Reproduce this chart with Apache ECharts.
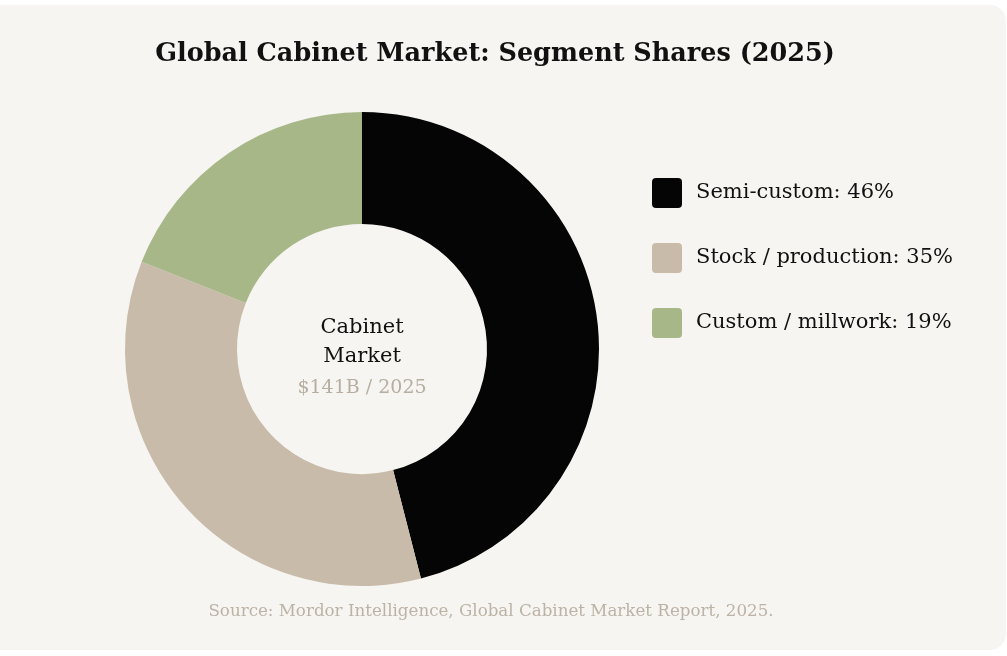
<!DOCTYPE html>
<html>
<head>
<meta charset="utf-8">
<script src="https://cdn.jsdelivr.net/npm/echarts@6/dist/echarts.min.js"></script>
<style>
  html, body { margin: 0; padding: 0; background: #ffffff; }
  #card {
    position: absolute; left: 0; top: 5px; width: 1006px; height: 645px;
    background: #f6f5f1; border-radius: 0 16px 16px 0; overflow: hidden;
  }
  #main { position: absolute; left: 0; top: 0; width: 1006px; height: 645px; }
</style>
</head>
<body>
<div id="card"><div id="main"></div></div>
<script>
// segment data
var segments = ['Semi-custom', 'Stock / production', 'Custom / millwork'];
var shares = [46, 35, 19];
var centerLines = ['Cabinet', 'Market'];
var centerNote = '$141B / 2025';
var sourceText = 'Source: Mordor Intelligence, Global Cabinet Market Report, 2025.';

var palette = ['#050505', '#c9bbaa', '#a8b788'];
var serif = 'Georgia, "DejaVu Serif", serif';
var swatch = 'path://M4,0 H26 Q30,0 30,4 V26 Q30,30 26,30 H4 Q0,30 0,26 V4 Q0,0 4,0 Z';

function buildData() {
    var out = [];
    for (var i = 0; i < segments.length; i++) {
        out.push({ name: segments[i], value: shares[i], itemStyle: { color: palette[i] } });
    }
    return out;
}

var myChart = echarts.init(document.getElementById('main'));
var option = {
    animation: false,
    title: {
        text: 'Global Cabinet Market: Segment Shares (2025)',
        left: 490, top: 31, textAlign: 'center',
        textStyle: { fontFamily: serif, fontWeight: 'bold', fontSize: 25.5, color: '#111' }
    },
    legend: {
        orient: 'vertical',
        left: 652, top: 173,
        padding: 0,
        icon: swatch,
        itemWidth: 30, itemHeight: 30, itemGap: 35,
        textStyle: { fontFamily: serif, fontSize: 21, color: '#111', padding: [0, 0, 0, 9] },
        formatter: function (name) {
            return name + ': ' + shares[segments.indexOf(name)] + '%';
        },
        selectedMode: false
    },
    graphic: [
        {
            type: 'text', x: 362, y: 308,
            style: {
                text: centerLines.join('\n'), align: 'center', verticalAlign: 'top',
                font: '21px ' + serif, lineHeight: 29, fill: '#111'
            }
        },
        {
            type: 'text', x: 362, y: 374,
            style: {
                text: centerNote, align: 'center', verticalAlign: 'top',
                font: '19px ' + serif, fill: '#b7aea2'
            }
        },
        {
            type: 'text', x: 491, y: 598,
            style: {
                text: sourceText, align: 'center', verticalAlign: 'top',
                font: '16.7px ' + serif, fill: '#bcb3a6'
            }
        }
    ],
    series: [{
        type: 'pie',
        center: [362, 344],
        radius: [125, 237],
        startAngle: 90,
        clockwise: true,
        label: { show: false },
        labelLine: { show: false },
        emphasis: { disabled: true },
        itemStyle: { borderWidth: 0 },
        data: buildData()
    }]
};
myChart.setOption(option);
</script>
</body>
</html>
